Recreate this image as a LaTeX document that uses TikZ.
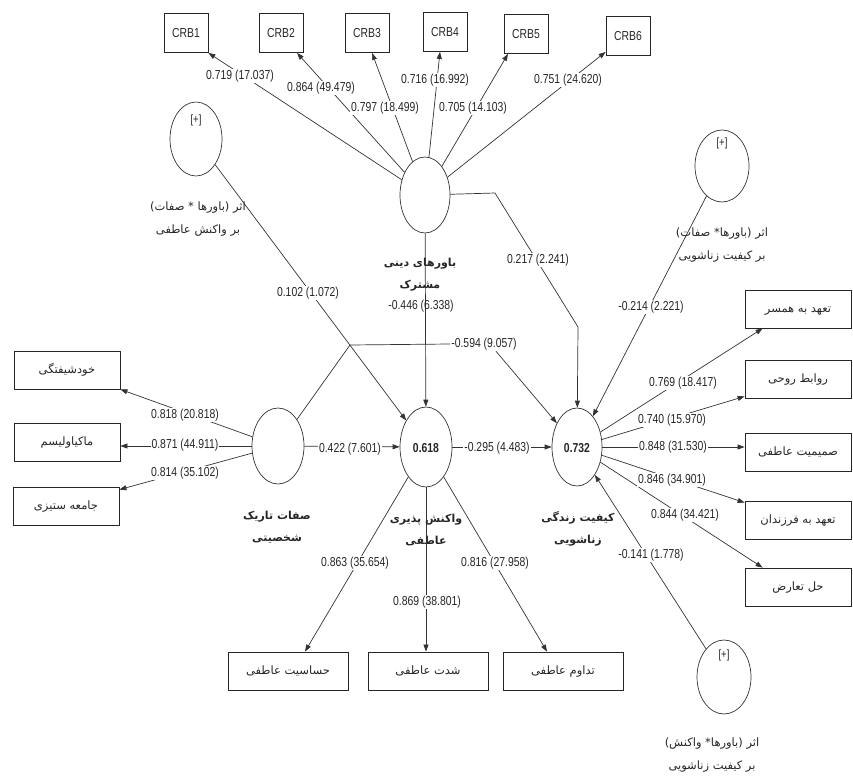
\documentclass[tikz,border=0pt]{standalone}
\usepackage{fontspec}
\setmainfont{Liberation Sans}
\newfontfamily\numf[FakeStretch=0.8]{Liberation Sans}
\newfontfamily\fa[Script=Arabic]{DejaVu Sans}
\TeXXeTstate=1
\usetikzlibrary{shapes.geometric,arrows.meta,calc}
\newcommand{\pers}[1]{{\fa\beginR #1\endR}}
\begin{document}
\begin{tikzpicture}[x=1pt,y=-1pt,
  every node/.style={text=black!85},
  lat/.style={ellipse, draw=black!80, line width=0.7pt, inner sep=0pt},
  ind/.style={rectangle, draw=black!85, line width=0.8pt, minimum width=106, minimum height=38, inner sep=1pt, text height=8pt, text depth=2pt, font=\fa\fontsize{11.5}{13}\selectfont},
  crbbox/.style={rectangle, draw=black!85, line width=0.8pt, minimum width=44, minimum height=39, inner sep=1pt, font=\numf\fontsize{13}{14}\selectfont},
  lbl/.style={font=\numf\fontsize{13}{14}\selectfont, fill=white, inner sep=1pt},
  lbln/.style={font=\numf\fontsize{13}{14}\selectfont, inner sep=1pt},
  lname/.style={font=\fa\bfseries\fontsize{11}{22}\selectfont, align=center, inner sep=1pt},
  mname/.style={font=\fa\fontsize{11.5}{23}\selectfont, align=center, inner sep=1pt},
  plus/.style={font=\numf\fontsize{12}{12}\selectfont, inner sep=0pt},
  ln/.style={draw=black!80, line width=0.7pt},
  arr/.style={ln, -{Triangle[length=7pt,width=5pt]}}
]
\useasboundingbox (0,0) rectangle (853,781);

% latent variables
\node[lat, minimum width=50, minimum height=76] (C) at (425,195) {};
\node[lat, minimum width=52, minimum height=74] (L) at (196,139) {};
\node[lat, minimum width=54, minimum height=72] (R) at (722,166) {};
\node[lat, minimum width=54, minimum height=74] (M) at (724,677) {};
\node[lat, minimum width=52, minimum height=76] (D) at (278,446) {};
\node[lat, minimum width=52, minimum height=80] (E) at (426,447) {};
\node[lat, minimum width=50, minimum height=78] (Q) at (577,447) {};

\node[plus] (Lp) at (196,120) {[+]};
\node[plus] (Rp) at (722,143) {[+]};
\node[plus] (Mp) at (724,655) {[+]};
\node[font=\numf\bfseries\fontsize{13}{14}\selectfont] (Ev) at (426,448) {0.618};
\node[font=\numf\bfseries\fontsize{13}{14}\selectfont] (Qv) at (577,448) {0.732};

% indicators
\node[crbbox] (crb1) at (186,33) {CRB1};
\node[crbbox] (crb2) at (281,33) {CRB2};
\node[crbbox] (crb3) at (367,33) {CRB3};
\node[crbbox] (crb4) at (445,32) {CRB4};
\node[crbbox] (crb5) at (526,34) {CRB5};
\node[crbbox] (crb6) at (628,36) {CRB6};

\node[ind] (r1) at (798,309) {\pers{تعهد به همسر}};
\node[ind] (r2) at (798,379) {\pers{روابط روحی}};
\node[ind] (r3) at (798,452) {\pers{صمیمیت عاطفی}};
\node[ind] (r4) at (798,520) {\pers{تعهد به فرزندان}};
\node[ind] (r5) at (798,587) {\pers{حل تعارض}};

\node[ind] (l1) at (67,370) {\pers{خودشیفتگی}};
\node[ind] (l2) at (67,442) {\pers{ماکیاولیسم}};
\node[ind] (l3) at (66,506) {\pers{جامعه ستیزی}};

\node[ind, minimum width=120] (b1) at (288,671) {\pers{حساسیت عاطفی}};
\node[ind, minimum width=120] (b2) at (428,671) {\pers{شدت عاطفی}};
\node[ind, minimum width=120] (b3) at (563,671) {\pers{تداوم عاطفی}};

% names
\node[lname] (Cn) at (420,275) {\pers{باورهای دینی}\\\pers{مشترک}};
\node[lname] (Dn) at (277,527) {\pers{صفات تاریک}\\\pers{شخصیتی}};
\node[lname] (En) at (426,530) {\pers{واکنش پذیری}\\\pers{عاطفی}};
\node[lname] (Qn) at (578,529) {\pers{کیفیت زندگی}\\\pers{زناشویی}};
\node[mname] (Ln) at (198,219) {\pers{اثر (باورها * صفات)}\\\pers{بر واکنش عاطفی}};
\node[mname] (Rn) at (722,245) {\pers{اثر (باورها* صفات)}\\\pers{بر کیفیت زناشویی}};
\node[mname] (Mn) at (712,755) {\pers{اثر (باورها* واکنش)}\\\pers{بر کیفیت زناشویی}};

% connectors: C to CRB
\draw[arr] (C) -- (crb1.south east);
\draw[arr] (C) -- ([xshift=16pt]crb2.south);
\draw[arr] (C) -- ([xshift=5pt]crb3.south);
\draw[arr] (C) -- ([xshift=-5pt]crb4.south);
\draw[arr] (C) -- ([xshift=-18pt]crb5.south);
\draw[arr] (C) -- ([yshift=4pt]crb6.south west);

% structural paths
\draw[arr] (L) -- (E);
\draw[arr] (C) -- (E);
\coordinate (k1) at (350,345);
\node[lbl] (p594) at (484,344) {-0.594 (9.057)};
\draw[ln] (D) -- (k1) -- (p594.west);
\draw[arr] ([xshift=12pt]p594.south) -- (Q);
\coordinate (k2) at (495,193);
\coordinate (k3) at (578,327);
\draw[arr] (C) -- (k2) -- (k3) -- (Q);
\draw[arr] (R) -- (Q);
\draw[arr] (M) -- (Q);
\draw[arr] (E) -- (Q);
\draw[arr] (D) -- (E);

% Q to indicators
\draw[arr] (Q) -- ([xshift=18pt]r1.south west);
\draw[arr] (Q) -- ([yshift=2pt]r2.south west);
\draw[arr] (Q.east) -- (Q.east -| r3.west);
\draw[arr] (Q) -- ([yshift=-2pt]r4.north west);
\draw[arr] (Q) -- ([xshift=18pt]r5.north west);

% D to indicators
\draw[arr] (D) -- (l1.south east);
\draw[arr] (D.west) -- (D.west -| l2.east);
\draw[arr] (D) -- ([yshift=-3pt]l3.north east);

% E to indicators
\draw[arr] (E) -- ([xshift=17pt]b1.north);
\draw[arr] (E.south) -- (E.south |- b2.north);
\draw[arr] (E) -- ([xshift=-16pt]b3.north);

% labels
\node[lbl] at (240,76) {0.719 (17.037)};
\node[lbl] at (321,88) {0.864 (49.479)};
\node[lbl] at (385,108) {0.797 (18.499)};
\node[lbl] at (435,80) {0.716 (16.992)};
\node[lbl] at (473,108) {0.705 (14.103)};
\node[lbl] at (568,80) {0.751 (24.620)};

\node[lbl] at (308,293) {0.102 (1.072)};
\node[lbln] at (421,306) {-0.446 (6.338)};
\node[lbl] at (538,260) {0.217 (2.241)};
\node[lbl] at (651,307) {-0.214 (2.221)};
\node[lbl] at (651,555) {-0.141 (1.778)};
\node[lbl] at (350,449) {0.422 (7.601)};
\node[lbl] at (497,448) {-0.295 (4.483)};

\node[lbl] at (683,383) {0.769 (18.417)};
\node[lbl] at (672,420) {0.740 (15.970)};
\node[lbl] at (673,447) {0.848 (31.530)};
\node[lbl] at (672,480) {0.846 (34.901)};
\node[lbl] at (685,515) {0.844 (34.421)};

\node[lbl] at (185,415) {0.818 (20.818)};
\node[lbl] at (185,445) {0.871 (44.911)};
\node[lbl] at (185,473) {0.814 (35.102)};

\node[lbl] at (355,563) {0.863 (35.654)};
\node[lbl] at (427,602) {0.869 (38.801)};
\node[lbl] at (495,563) {0.816 (27.958)};
\end{tikzpicture}
\end{document}
